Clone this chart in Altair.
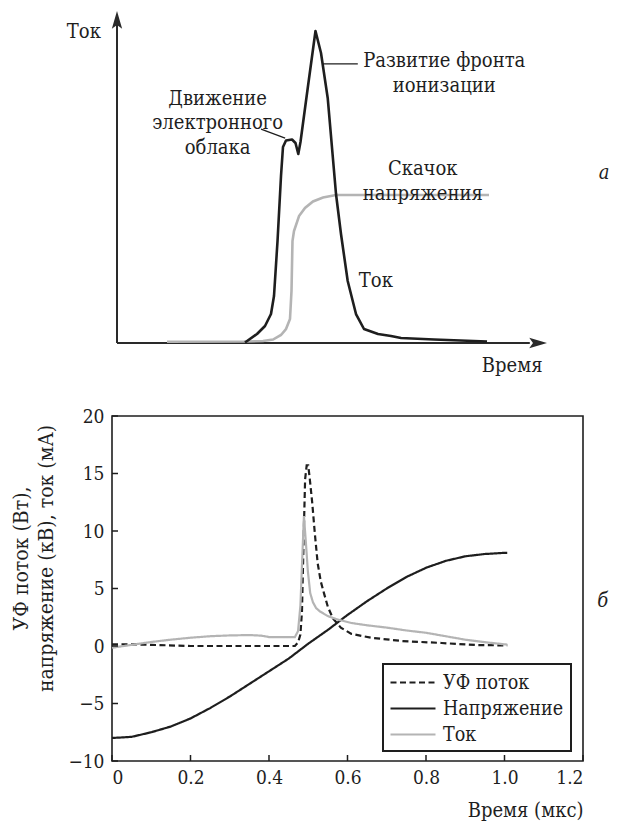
import altair as alt
import pandas as pd

FONT = "DejaVu Serif Condensed"
INK = "#1e1e1e"
GRAY = "#b4b4b4"

# ---------------- panel (a): schematic, arbitrary units ----------------
a_cur_x = [29.77, 32.56, 34.42, 35.81, 36.51, 37.33, 38.14, 38.60, 39.30, 40.70, 41.51,
           42.16, 42.67, 44.42, 46.16, 47.44, 49.00, 50.93, 52.09, 53.65, 55.58, 57.44,
           60.70, 63.72, 66.05, 73.72, 86.05]
a_cur_y = [0.15, 2.71, 5.12, 8.73, 14.16, 30.72, 50.30, 59.04, 60.99, 61.30, 60.24,
           56.93, 60.54, 77.41, 93.98, 87.35, 73.80, 44.88, 32.83, 18.67, 8.73, 4.22,
           2.71, 2.11, 1.51, 1.05, 0.45]
a_step_x = [11.63, 29.53, 33.95, 36.28, 38.14, 39.30, 40.23, 40.58, 40.81, 41.16, 42.33,
            43.72, 45.58, 47.91, 50.93, 86.51]
a_step_y = [0.39, 0.45, 0.60, 1.05, 2.41, 4.22, 7.23, 15.66, 30.72, 33.73, 38.25,
            40.66, 42.62, 43.83, 44.58, 44.58]

a_text = ["Ток", "Время", "Движение\nэлектронного\nоблака", "Развитие фронта\nионизации",
          "Скачок\nнапряжения", "Ток"]
a_text_x = [-7.7, 91.9, 23.4, 76.1, 71.1, 60.2]
a_text_y = [93.7, -6.9, 73.5, 84.8, 52.3, 18.7]

a_tag = ["а"]
a_tag_x = [113.3]
a_tag_y = [51.2]

a_lead_x = [47.8, 33.5]
a_lead_y = [84.1, 64.4]
a_lead_x2 = [56.0, 39.1]
a_lead_y2 = [84.1, 61.7]

a_axis_x = [0, 0]
a_axis_y = [0, 0]
a_axis_x2 = [0, 96]
a_axis_y2 = [96, 0]

a_arrow_x = [0, 100]
a_arrow_y = [100, 0]
a_arrow_dir = ["up", "right"]

# ---------------- panel (б): measured curves ----------------
series = ["УФ поток", "Напряжение", "Ток"]

t_uv = [0.0, 0.05, 0.1, 0.2, 0.3, 0.4, 0.466, 0.474, 0.48, 0.484, 0.488, 0.492, 0.496,
        0.5, 0.504, 0.51, 0.517, 0.524, 0.532, 0.54, 0.55, 0.563, 0.583, 0.61, 0.66,
        0.74, 0.84, 0.93, 1.007]
uv = [0.15, 0.15, 0.1, 0.0, 0.0, 0.0, 0.0, 0.3, 1.0, 3.0, 9.0, 14.5, 15.7,
      15.7, 14.5, 12.5, 9.7, 7.2, 5.6, 4.6, 3.4, 2.4, 1.6, 1.05, 0.72,
      0.43, 0.26, 0.08, 0.05]

t_volt = [0.0, 0.05, 0.1, 0.15, 0.2, 0.25, 0.3, 0.35, 0.4, 0.45, 0.5, 0.55, 0.6, 0.65,
          0.7, 0.75, 0.8, 0.85, 0.9, 0.95, 1.0, 1.007]
volt = [-8.0, -7.9, -7.5, -7.0, -6.3, -5.4, -4.4, -3.3, -2.2, -1.1, 0.2, 1.4, 2.7, 3.9,
        5.0, 6.0, 6.8, 7.4, 7.8, 8.0, 8.1, 8.1]

t_cur = [0.0, 0.05, 0.1, 0.15, 0.2, 0.25, 0.3, 0.35, 0.38, 0.4, 0.466, 0.474, 0.48,
         0.484, 0.489, 0.494, 0.499, 0.505, 0.512, 0.52, 0.53, 0.55, 0.575, 0.61, 0.65,
         0.7, 0.75, 0.8, 0.85, 0.9, 0.95, 1.007]
cur = [-0.15, 0.1, 0.35, 0.55, 0.72, 0.85, 0.92, 0.95, 0.9, 0.78, 0.78, 1.3, 3.5,
       7.0, 11.3, 9.0, 6.5, 4.6, 3.8, 3.3, 3.0, 2.6, 2.3, 2.0, 1.8,
       1.6, 1.35, 1.15, 0.85, 0.55, 0.33, 0.12]

x_ticks = [0, 0.2, 0.4, 0.6, 0.8, 1.0, 1.2]
y_ticks = [-10, -5, 0, 5, 10, 15, 20]

b_tag = ["б"]
b_tag_x = [1.25]
b_tag_y = [3.9]

# ================= panel (a) =================
sx_a = alt.Scale(domain=[-1.163, 108.37], nice=False, zero=False)
sy_a = alt.Scale(domain=[-0.904, 100.6], nice=False, zero=False)

def ax_a(f):
    return alt.X(f, type="quantitative", scale=sx_a, axis=None)

def ay_a(f):
    return alt.Y(f, type="quantitative", scale=sy_a, axis=None)

df_axis = pd.DataFrame({"x": a_axis_x, "y": a_axis_y, "x2": a_axis_x2, "y2": a_axis_y2})
axes_a = alt.Chart(df_axis).mark_rule(color="#2a2a2a", strokeWidth=2).encode(
    x=ax_a("x"), y=ay_a("y"), x2="x2:Q", y2="y2:Q")

df_arr = pd.DataFrame({"x": a_arrow_x, "y": a_arrow_y, "d": a_arrow_dir})
arr_up = alt.Chart(df_arr[df_arr.d == "up"]).mark_point(
    shape="M0,0 L0.55,1.9 L0,1.5 L-0.55,1.9 Z", size=350, filled=True, opacity=1,
    color="#2a2a2a", strokeWidth=0).encode(x=ax_a("x"), y=ay_a("y"))
arr_right = alt.Chart(df_arr[df_arr.d == "right"]).mark_point(
    shape="M0,0 L-1.9,-0.55 L-1.5,0 L-1.9,0.55 Z", size=350, filled=True, opacity=1,
    color="#2a2a2a", strokeWidth=0).encode(x=ax_a("x"), y=ay_a("y"))

df_step = pd.DataFrame({"x": a_step_x, "y": a_step_y, "o": list(range(len(a_step_x)))})
step_a = alt.Chart(df_step).mark_line(color=GRAY, strokeWidth=2.6).encode(
    x=ax_a("x"), y=ay_a("y"), order="o:Q")

df_cur = pd.DataFrame({"x": a_cur_x, "y": a_cur_y, "o": list(range(len(a_cur_x)))})
cur_a = alt.Chart(df_cur).mark_line(color=INK, strokeWidth=2.6, strokeJoin="round").encode(
    x=ax_a("x"), y=ay_a("y"), order="o:Q")

df_lead = pd.DataFrame({"x": a_lead_x, "y": a_lead_y, "x2": a_lead_x2, "y2": a_lead_y2})
lead_a = alt.Chart(df_lead).mark_rule(color=INK, strokeWidth=1.3).encode(
    x=ax_a("x"), y=ay_a("y"), x2="x2:Q", y2="y2:Q")

df_txt = pd.DataFrame({"x": a_text_x, "y": a_text_y, "t": a_text})
txt_a = alt.Chart(df_txt).mark_text(
    font=FONT, fontSize=20, color=INK, lineBreak="\n", lineHeight=24.5,
    align="center", baseline="middle").encode(x=ax_a("x"), y=ay_a("y"), text="t:N")

df_tag = pd.DataFrame({"x": a_tag_x, "y": a_tag_y, "t": a_tag})
tag_a = alt.Chart(df_tag).mark_text(
    font=FONT, fontSize=20, fontStyle="italic", color=INK,
    align="center", baseline="middle").encode(x=ax_a("x"), y=ay_a("y"), text="t:N")

top = alt.layer(axes_a, arr_up, arr_right, step_a, cur_a, lead_a, txt_a, tag_a).properties(
    width=471, height=337, view=alt.ViewBackground(stroke="transparent"))

# ================= panel (б) =================
rows = []
for s, ts, vs in [(series[0], t_uv, uv), (series[1], t_volt, volt), (series[2], t_cur, cur)]:
    for i, (t, v) in enumerate(zip(ts, vs)):
        rows.append({"t": t, "v": v, "s": s, "o": i})
df_b = pd.DataFrame(rows)

sx_b = alt.Scale(domain=[0, 1.2], nice=False, zero=False)
sy_b = alt.Scale(domain=[-10, 20], nice=False, zero=False)

leg = alt.Legend(
    title=None, orient="none", legendX=271, legendY=248, direction="vertical",
    symbolType="M-1.1,0 L3.4,0", symbolSize=400, symbolStrokeWidth=2.2,
    labelFont=FONT, labelFontSize=19.5, labelColor=INK, labelOffset=30,
    padding=7, rowPadding=5, strokeColor=INK, fillColor="white")

lines_b = alt.Chart(df_b).mark_line(strokeWidth=2.2).encode(
    x=alt.X("t:Q", scale=sx_b, axis=alt.Axis(
        values=x_ticks, title="Время (мкс)", titleAnchor="end", titlePadding=13,
        labelExpr="datum.value == 0 ? '0' : format(datum.value, '.1f')",
        labelPadding=7, grid=False, domain=False, ticks=False,
        labelFont=FONT, labelFontSize=19, labelColor=INK,
        titleFont=FONT, titleFontSize=20, titleFontWeight="normal", titleColor=INK)),
    y=alt.Y("v:Q", scale=sy_b, axis=alt.Axis(
        values=y_ticks, title=["УФ поток (Вт),", "напряжение (кВ), ток (мА)"],
        titleX=-91, titleY=142, titleAlign="center", titleBaseline="middle",
        titleLineHeight=25, labelPadding=8, grid=False, domain=False, ticks=False,
        labelFont=FONT, labelFontSize=19, labelColor=INK,
        titleFont=FONT, titleFontSize=21, titleFontWeight="normal", titleColor=INK)),
    color=alt.Color("s:N", scale=alt.Scale(domain=series, range=[INK, INK, GRAY]), legend=leg),
    strokeDash=alt.StrokeDash("s:N", scale=alt.Scale(domain=series, range=[[6, 3.5], [1, 0], [1, 0]]),
                              legend=leg),
    order="o:Q")

xt_b = alt.Chart(pd.DataFrame({"t": x_ticks})).mark_rule(color=INK, strokeWidth=1.5).encode(
    x=alt.X("t:Q", scale=sx_b), y=alt.value(345), y2=alt.value(339))
yt_b = alt.Chart(pd.DataFrame({"v": y_ticks})).mark_rule(color=INK, strokeWidth=1.5).encode(
    y=alt.Y("v:Q", scale=sy_b), x=alt.value(0), x2=alt.value(6))

df_btag = pd.DataFrame({"t": b_tag_x, "v": b_tag_y, "s": b_tag})
tag_b = alt.Chart(df_btag).mark_text(
    font=FONT, fontSize=20, fontStyle="italic", color=INK,
    align="center", baseline="middle").encode(
    x=alt.X("t:Q", scale=sx_b), y=alt.Y("v:Q", scale=sy_b), text="s:N")

bottom = alt.layer(lines_b, xt_b, yt_b, tag_b).properties(
    width=471, height=345, view=alt.ViewBackground(stroke=INK, strokeWidth=1.6))

chart = alt.vconcat(top, bottom, spacing=70, bounds="flush").resolve_scale(
    color="independent", strokeDash="independent").resolve_legend(
    color="independent", strokeDash="independent").properties(
    padding={"left": 9, "top": 8, "right": 5, "bottom": 5}).configure(
    background="white").configure_legend(strokeWidth=2)

chart.save("out.html", embed_options={"renderer": "svg", "actions": False})
